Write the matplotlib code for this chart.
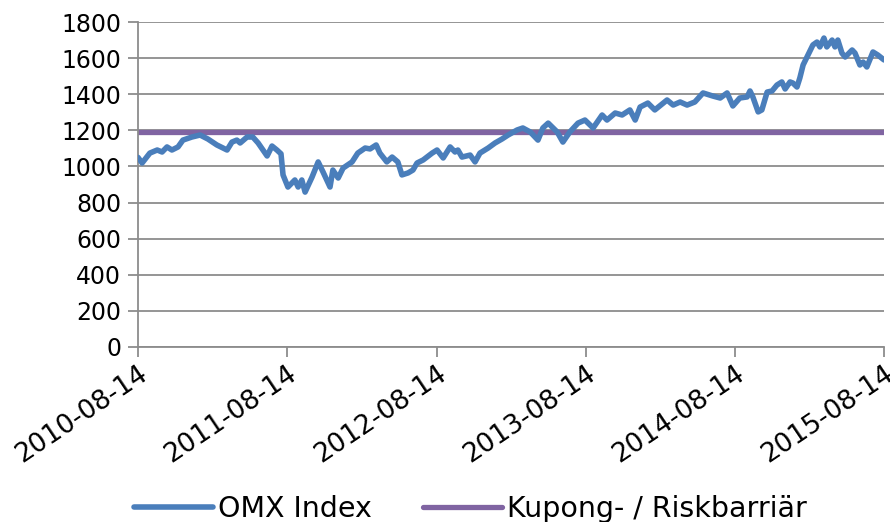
import matplotlib
matplotlib.use("Agg")
import matplotlib.pyplot as plt
import datetime as dt

start_date = "2010-08-14"
days_since_start = [0, 10, 29, 47, 59, 71, 83, 98, 110, 132, 152, 171, 193, 218, 230, 242, 250, 267,
                    281, 294, 316, 328, 340, 350, 355, 367, 384, 392, 401, 409, 426, 441, 453, 470,
                    477, 490, 502, 524, 538, 556, 568, 583, 592, 609, 622, 636, 646, 661, 673, 683,
                    698, 720, 732, 747, 764, 776, 783, 793, 813, 825, 837, 857, 874, 891, 906, 928,
                    942, 960, 979, 991, 1004, 1026, 1040, 1057, 1077, 1094, 1114, 1136, 1148, 1168,
                    1185, 1204, 1217, 1229, 1248, 1265, 1295, 1310, 1327, 1344, 1363, 1383, 1407,
                    1425, 1442, 1456, 1473, 1491, 1498, 1505, 1518, 1527, 1540, 1552, 1564, 1576,
                    1584, 1596, 1603, 1613, 1620, 1628, 1640, 1652, 1662, 1669, 1679, 1686, 1699,
                    1706, 1713, 1723, 1731, 1748, 1755, 1767, 1775, 1784, 1799, 1811, 1826]
omx_values = [1050, 1019, 1074, 1091, 1080, 1108, 1091, 1108, 1146, 1163, 1174, 1152, 1119, 1091, 1135,
              1146, 1130, 1163, 1163, 1130, 1058, 1113, 1091, 1070, 953, 886, 925, 886, 925, 858,
              941, 1025, 969, 886, 980, 936, 991, 1025, 1074, 1102, 1097, 1119, 1074, 1025, 1052,
              1025, 953, 964, 980, 1019, 1036, 1074, 1091, 1047, 1108, 1080, 1091, 1052, 1063,
              1025, 1074, 1102, 1130, 1152, 1174, 1202, 1213, 1191, 1146, 1213, 1240, 1191, 1135,
              1191, 1240, 1257, 1213, 1285, 1257, 1296, 1285, 1313, 1257, 1329, 1351, 1313, 1368,
              1340, 1357, 1340, 1357, 1407, 1390, 1379, 1407, 1335, 1379, 1385, 1418, 1385, 1302,
              1313, 1412, 1418, 1451, 1468, 1429, 1468, 1462, 1440, 1490, 1562, 1617, 1673, 1689,
              1662, 1711, 1662, 1700, 1662, 1700, 1628, 1606, 1645, 1628, 1562, 1578, 1551, 1634,
              1617, 1590]
barrier_value = 1190
tick_labels = ["2010-08-14", "2011-08-14", "2012-08-14", "2013-08-14", "2014-08-14", "2015-08-14"]
y_ticks = [0, 200, 400, 600, 800, 1000, 1200, 1400, 1600, 1800]
series_names = ["OMX Index", "Kupong- / Riskbarriär"]

plt.rcParams['font.family'] = ['DejaVu Sans']

d0 = dt.datetime.strptime(start_date, "%Y-%m-%d")
dates = [d0 + dt.timedelta(days=d) for d in days_since_start]
tick_dates = [dt.datetime.strptime(t, "%Y-%m-%d") for t in tick_labels]

fig = plt.figure(figsize=(8.9, 5.22), dpi=100)
ax = fig.add_axes([138/890, 1-347/522, (884-138)/890, (347-22)/522])

ax.plot(dates, omx_values, color="#4A7EBB", lw=4.0, solid_joinstyle="round",
        solid_capstyle="round", label=series_names[0], zorder=3)
ax.plot([tick_dates[0], tick_dates[-1]], [barrier_value, barrier_value], color="#8064A2", lw=3.8,
        solid_capstyle="round", label=series_names[1], zorder=2)

ax.set_xlim(tick_dates[0], tick_dates[-1])
ax.set_ylim(0, 1800)
ax.set_yticks(y_ticks)
ax.set_yticklabels([str(v) for v in y_ticks])
ax.set_xticks(tick_dates)
ax.set_xticklabels(tick_labels, rotation=34, ha="right", rotation_mode="anchor")

ax.grid(axis="y", color="#8C8C8C", lw=1.3)
ax.set_axisbelow(True)
for s in ["top", "right"]:
    ax.spines[s].set_visible(False)
for s in ["left", "bottom"]:
    ax.spines[s].set_color("#8C8C8C")
    ax.spines[s].set_linewidth(1.3)
ax.tick_params(axis="both", colors="#8C8C8C", labelcolor="black", width=1.3, length=7)
ax.tick_params(axis="y", labelsize=17, pad=5)
ax.tick_params(axis="x", labelsize=19, pad=3)

leg = fig.legend(loc="center", bbox_to_anchor=(0.529, 0.025), ncol=2, frameon=False,
                 fontsize=20.5, handlelength=2.75, handletextpad=0.2, columnspacing=1.8)

fig.savefig("out.png", dpi=100)
